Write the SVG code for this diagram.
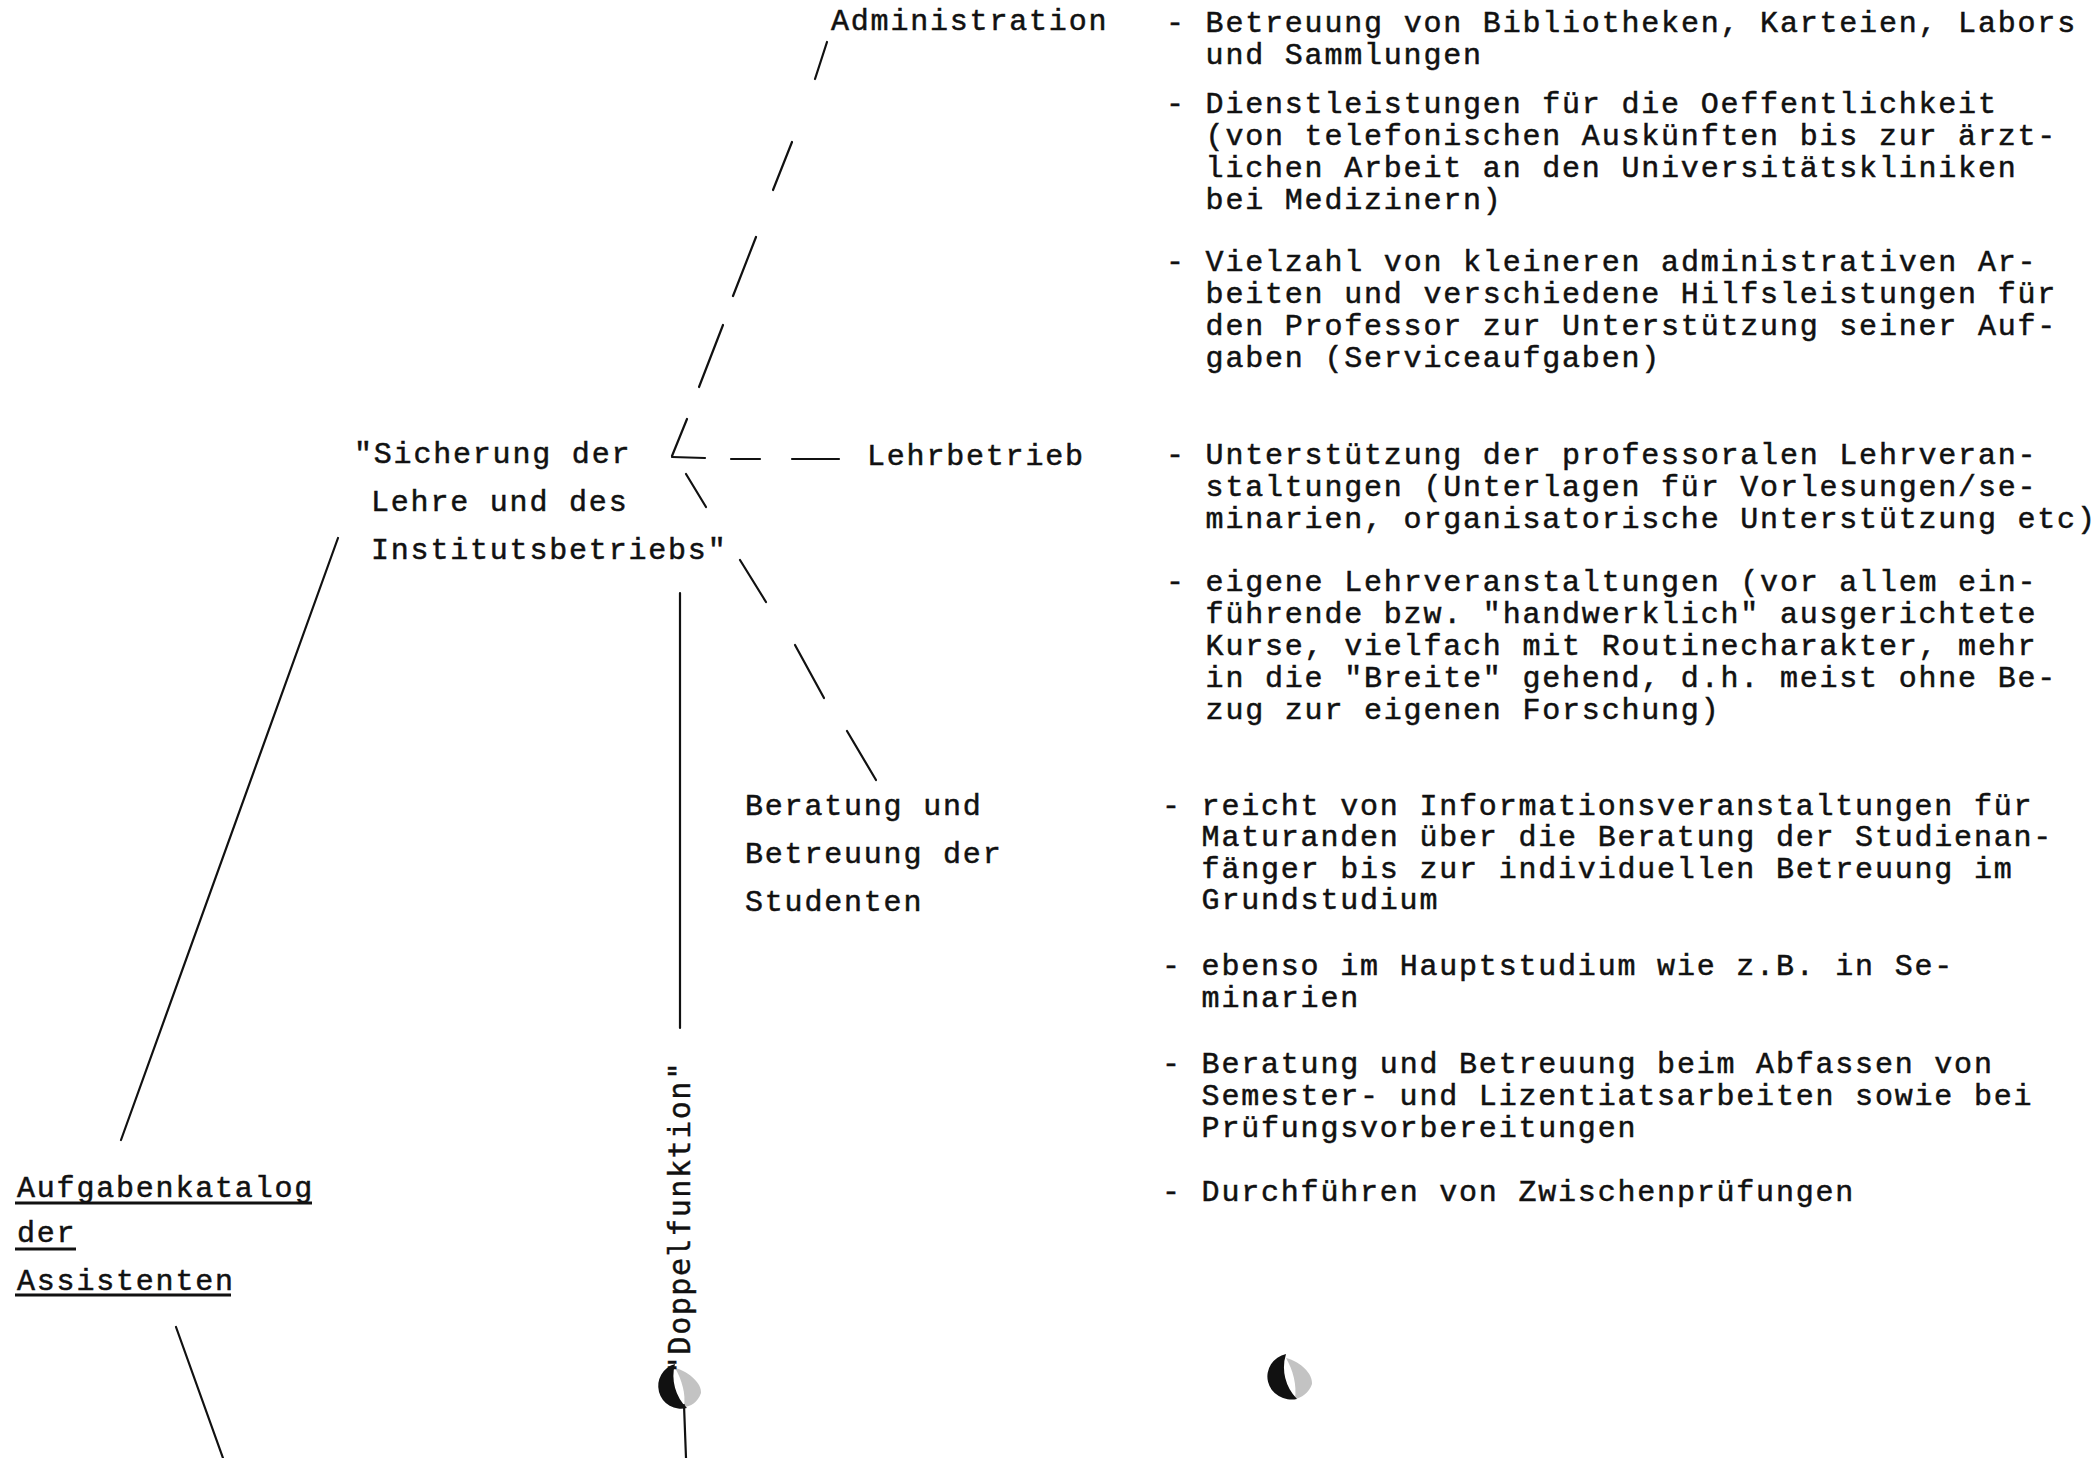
<svg xmlns="http://www.w3.org/2000/svg" width="2094" height="1458" viewBox="0 0 2094 1458">
<defs>
<style>
.t{font-family:"Liberation Mono","Courier New",monospace;font-size:30px;letter-spacing:1.8px;fill:#111;stroke:#111;stroke-width:0.5px}
.d{font-family:"DejaVu Sans Mono","Liberation Mono",monospace;font-size:30px;fill:#111;stroke:#111;stroke-width:0.4px}
.ln{stroke:#111;stroke-width:2.2;stroke-linecap:round;fill:none}
.ul{stroke:#111;stroke-width:3;fill:none}
.dark{fill:#111}
.speck{fill:#7a7a7a;opacity:0.45}
</style>
</defs>
<rect width="2094" height="1458" fill="#fff"/>

<g id="connectors">
  <line class="ln" x1="827" y1="42" x2="815" y2="79" stroke-width="1.4"/>
  <line class="ln" x1="792" y1="142" x2="773" y2="190"/>
  <line class="ln" x1="756" y1="237" x2="733" y2="296"/>
  <line class="ln" x1="723" y1="325" x2="699" y2="387"/>
  <line class="ln" x1="687" y1="419" x2="672" y2="456"/>
  <line class="ln" x1="672" y1="457" x2="705" y2="458"/>
  <line class="ln" x1="731" y1="459" x2="760" y2="459"/>
  <line class="ln" x1="792" y1="459" x2="839" y2="459"/>
  <line class="ln" x1="686" y1="474" x2="706" y2="507"/>
  <line class="ln" x1="740" y1="560" x2="766" y2="602"/>
  <line class="ln" x1="795" y1="645" x2="824" y2="698"/>
  <line class="ln" x1="847" y1="731" x2="876" y2="780"/>
  <line class="ln" x1="338" y1="538" x2="121" y2="1140"/>
  <line class="ln" x1="176" y1="1327" x2="223" y2="1458" stroke-width="2.6"/>
  <line class="ln" x1="680" y1="593" x2="680" y2="1028" stroke-width="3"/>
  <line class="ln" x1="684" y1="1405" x2="686" y2="1458" stroke-width="2.5"/>
</g>

<g id="blob1">
  <path class="speck" d="M675,1368 C690,1372 702,1384 701,1393 C698,1402 690,1407 684,1407 C686,1394 682,1380 675,1368 Z"/>
  <path class="dark" d="M675,1364 A22,22 0 0 0 687,1408 A45,45 0 0 1 675,1364 Z"/>
</g>
<g id="blob2">
  <path class="speck" d="M1286,1358 C1301,1362 1313,1374 1312,1384 C1309,1393 1301,1398 1295,1399 C1297,1385 1293,1370 1286,1358 Z"/>
  <path class="dark" d="M1286,1354 A23,22 0 0 0 1297,1399 A45,45 0 0 1 1286,1354 Z"/>
</g>

<g id="node-administration">
  <text class="t" x="831" y="30">Administration</text>
</g>
<g id="node-lehrbetrieb">
  <text class="t" x="867" y="465">Lehrbetrieb</text>
</g>
<g id="node-sicherung">
  <text class="t" x="354" y="463">"Sicherung der</text>
  <text class="t" x="371" y="511">Lehre und des</text>
  <text class="t" x="371" y="559">Institutsbetriebs"</text>
</g>
<g id="node-beratung">
  <text class="t" x="745" y="815">Beratung und</text>
  <text class="t" x="745" y="863">Betreuung der</text>
  <text class="t" x="745" y="911">Studenten</text>
</g>
<g id="node-aufgabenkatalog">
  <text class="t" x="17" y="1197">Aufgabenkatalog</text>
  <line class="ul" x1="15" y1="1203" x2="312" y2="1203"/>
  <text class="t" x="17" y="1242">der</text>
  <line class="ul" x1="15" y1="1249" x2="76" y2="1249"/>
  <text class="t" x="17" y="1290">Assistenten</text>
  <line class="ul" x1="15" y1="1295" x2="231" y2="1295"/>
</g>
<g id="node-doppelfunktion">
  <text class="d" transform="translate(690 1374) rotate(-90)" x="0" y="0" textLength="312" lengthAdjust="spacing">"Doppelfunktion"</text>
</g>

<g id="list-administration">
  <text class="t" x="1166" y="32">- Betreuung von Bibliotheken, Karteien, Labors</text>
  <text class="t" x="1205.6" y="64">und Sammlungen</text>
  <text class="t" x="1166" y="113">- Dienstleistungen für die Oeffentlichkeit</text>
  <text class="t" x="1205.6" y="145">(von telefonischen Auskünften bis zur ärzt-</text>
  <text class="t" x="1205.6" y="177">lichen Arbeit an den Universitätskliniken</text>
  <text class="t" x="1205.6" y="209">bei Medizinern)</text>
  <text class="t" x="1166" y="271">- Vielzahl von kleineren administrativen Ar-</text>
  <text class="t" x="1205.6" y="303">beiten und verschiedene Hilfsleistungen für</text>
  <text class="t" x="1205.6" y="335">den Professor zur Unterstützung seiner Auf-</text>
  <text class="t" x="1205.6" y="367">gaben (Serviceaufgaben)</text>
</g>
<g id="list-lehrbetrieb">
  <text class="t" x="1166" y="464">- Unterstützung der professoralen Lehrveran-</text>
  <text class="t" x="1205.6" y="496">staltungen (Unterlagen für Vorlesungen/se-</text>
  <text class="t" x="1205.6" y="528">minarien, organisatorische Unterstützung etc)</text>
  <text class="t" x="1166" y="591">- eigene Lehrveranstaltungen (vor allem ein-</text>
  <text class="t" x="1205.6" y="623">führende bzw. "handwerklich" ausgerichtete</text>
  <text class="t" x="1205.6" y="655">Kurse, vielfach mit Routinecharakter, mehr</text>
  <text class="t" x="1205.6" y="687">in die "Breite" gehend, d.h. meist ohne Be-</text>
  <text class="t" x="1205.6" y="719">zug zur eigenen Forschung)</text>
</g>
<g id="list-beratung">
  <text class="t" x="1162" y="815">- reicht von Informationsveranstaltungen für</text>
  <text class="t" x="1201.6" y="846">Maturanden über die Beratung der Studienan-</text>
  <text class="t" x="1201.6" y="878">fänger bis zur individuellen Betreuung im</text>
  <text class="t" x="1201.6" y="909">Grundstudium</text>
  <text class="t" x="1162" y="975">- ebenso im Hauptstudium wie z.B. in Se-</text>
  <text class="t" x="1201.6" y="1007">minarien</text>
  <text class="t" x="1162" y="1073">- Beratung und Betreuung beim Abfassen von</text>
  <text class="t" x="1201.6" y="1105">Semester- und Lizentiatsarbeiten sowie bei</text>
  <text class="t" x="1201.6" y="1137">Prüfungsvorbereitungen</text>
  <text class="t" x="1162" y="1201">- Durchführen von Zwischenprüfungen</text>
</g>
</svg>
